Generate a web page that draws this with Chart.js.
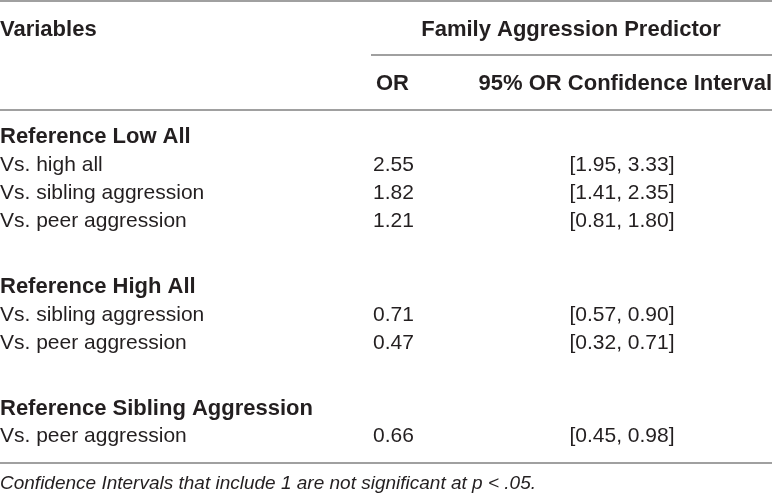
<!DOCTYPE html>
<html>
<head>
<meta charset="utf-8">
<script src="https://cdn.jsdelivr.net/npm/chart.js@4.4.0/dist/chart.umd.min.js"></script>
<style>
    html, body { margin: 0; padding: 0; background: #fff; }
    #wrap { width: 772px; height: 498px; position: relative; }
</style>
</head>
<body>
<div id="wrap"><canvas id="oddsTable"></canvas></div>
<script>
const columnHeaders = ["Variables", "OR", "95% OR Confidence Interval"];
const groupHeader = "Family Aggression Predictor";
const rowLabels = [
    "Reference Low All", "Vs. high all", "Vs. sibling aggression", "Vs. peer aggression",
    "Reference High All", "Vs. sibling aggression", "Vs. peer aggression",
    "Reference Sibling Aggression", "Vs. peer aggression"
];
const rowIsSection = [true, false, false, false, true, false, false, true, false];
const orValues = [null, 2.55, 1.82, 1.21, null, 0.71, 0.47, null, 0.66];
const ciLower = [null, 1.95, 1.41, 0.81, null, 0.57, 0.32, null, 0.45];
const ciUpper = [null, 3.33, 2.35, 1.80, null, 0.90, 0.71, null, 0.98];
const footnote = "Confidence Intervals that include 1 are not significant at p < .05.";

// layout
const ROW_H = 28;          // px per body row
const FIRST_ROW_Y = 137;   // centre of first body row
const SECTION_GAP = 1.35;  // extra rows before a new section
const OR_X = 373;
const CI_X = 622;
const TEXT = "#231f20";
const RULE = "#a0a0a0";
const FONT = "'Liberation Sans', Arial, sans-serif";
const BOLD = `bold 22px ${FONT}`;
const PLAIN = `21px ${FONT}`;

// row index on the y scale, with a gap before every section but the first
let sectionsSeen = 0;
const rowPos = rowLabels.map((_, i) => {
    if (rowIsSection[i] && i > 0) sectionsSeen++;
    return i + sectionsSeen * SECTION_GAP;
});

const fmt = v => v.toFixed(2);

const tablePlugin = {
    id: "tableText",
    afterDatasetsDraw(chart) {
        const ctx = chart.ctx;
        const w = chart.width;
        ctx.save();

        // rules
        ctx.strokeStyle = RULE;
        ctx.lineWidth = 2;
        [[0, 1, w], [371, 55, w], [0, 110, w], [0, 463, w]].forEach(([x0, y, x1]) => {
            ctx.beginPath();
            ctx.moveTo(x0, y);
            ctx.lineTo(x1, y);
            ctx.stroke();
        });

        ctx.fillStyle = TEXT;
        ctx.textBaseline = "middle";

        // header
        ctx.font = BOLD;
        ctx.textAlign = "left";
        ctx.fillText(columnHeaders[0], 0, 30);
        ctx.textAlign = "center";
        ctx.fillText(groupHeader, 571, 30);
        ctx.textAlign = "left";
        ctx.fillText(columnHeaders[1], 376, 84);
        ctx.textAlign = "right";
        ctx.fillText(columnHeaders[2], w, 84);

        // body rows, placed from the dataset elements
        const labelMeta = chart.getDatasetMeta(0);
        const orMeta = chart.getDatasetMeta(1);
        const ciMeta = chart.getDatasetMeta(2);
        rowLabels.forEach((label, i) => {
            const p = labelMeta.data[i];
            ctx.font = rowIsSection[i] ? BOLD : PLAIN;
            ctx.textAlign = "left";
            ctx.fillText(label, p.x, p.y);
            if (orValues[i] !== null) {
                const q = orMeta.data[i];
                ctx.font = PLAIN;
                ctx.fillText(fmt(orValues[i]), q.x, q.y);
                const r = ciMeta.data[i];
                ctx.textAlign = "center";
                ctx.fillText(`[${fmt(ciLower[i])}, ${fmt(ciUpper[i])}]`, r.x, r.y);
            }
        });

        // footnote
        ctx.font = `italic 19px ${FONT}`;
        ctx.textAlign = "left";
        ctx.fillText(footnote, 0, 484);
        ctx.restore();
    }
};

const H = 498;
const yMin = -FIRST_ROW_Y / ROW_H;
const yMax = yMin + H / ROW_H;

new Chart(document.getElementById("oddsTable"), {
    type: "scatter",
    data: {
        datasets: [
            { label: "Variables", data: rowPos.map(y => ({ x: 0, y })) },
            { label: "OR", data: rowPos.map((y, i) => ({ x: OR_X, y: orValues[i] === null ? null : y })) },
            { label: "CI", data: rowPos.map((y, i) => ({ x: CI_X, y: ciLower[i] === null ? null : y })) }
        ]
    },
    options: {
        responsive: true,
        maintainAspectRatio: false,
        animation: false,
        layout: { padding: 0 },
        elements: { point: { radius: 0, hoverRadius: 0 } },
        plugins: { legend: { display: false }, tooltip: { enabled: false } },
        scales: {
            x: { type: "linear", display: false, min: 0, max: 772 },
            y: { type: "linear", display: false, reverse: true, min: yMin, max: yMax }
        }
    },
    plugins: [tablePlugin]
});
</script>
</body>
</html>
